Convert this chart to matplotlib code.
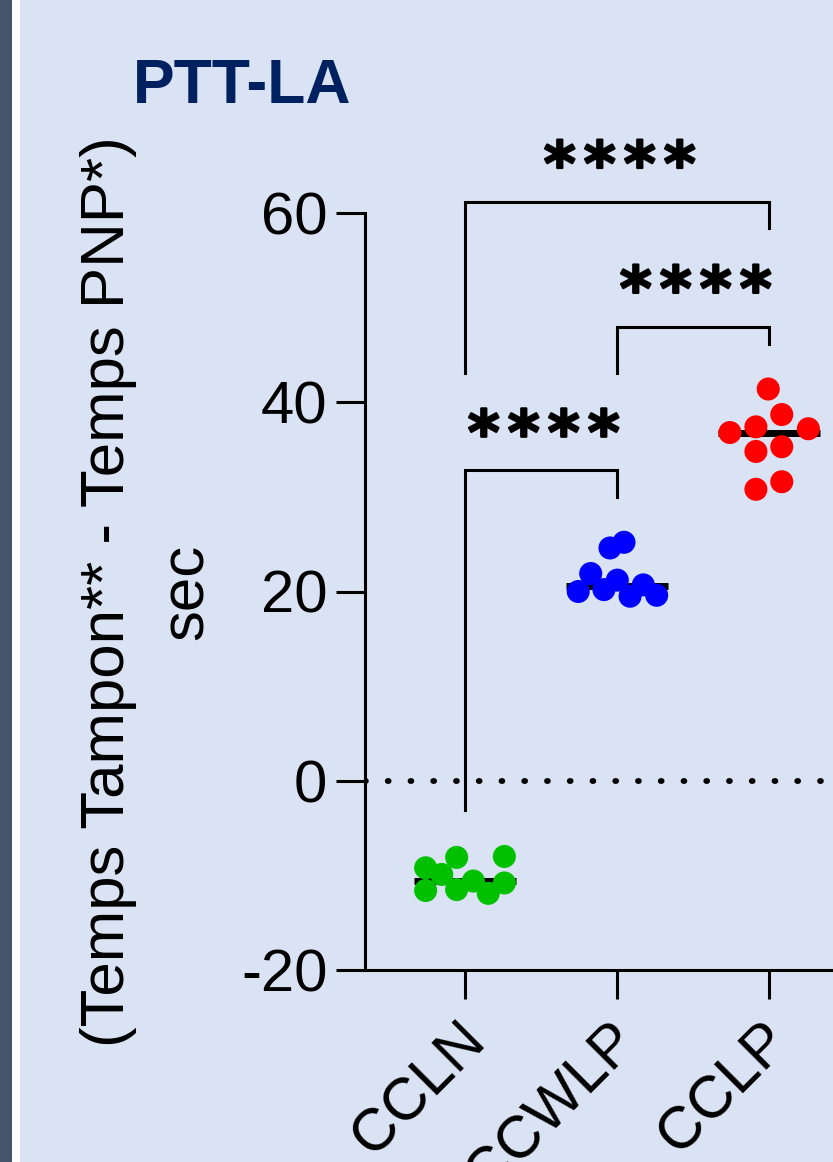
import matplotlib
matplotlib.use("Agg")
import matplotlib.pyplot as plt
import matplotlib.patheffects as pe
from matplotlib.patches import Rectangle

# ---- data ----
categories = ["CCLN", "CCWLP", "CCLP"]
colors = ["#00C000", "#0000FF", "#FF0000"]
ccln = [-9.2, -9.9, -8.1, -11.6, -11.5, -10.6, -11.9, -8.0, -10.8]
ccwlp = [24.6, 25.2, 21.9, 20.0, 20.2, 21.2, 19.5, 20.7, 19.6]
cclp = [41.4, 38.7, 36.8, 37.4, 37.2, 34.8, 35.3, 30.8, 31.6]
# horizontal jitter of the points (category units)
jit_ccln = [-0.259, -0.153, -0.055, -0.259, -0.055, 0.055, 0.153, 0.259, 0.259]
jit_ccwlp = [-0.046, 0.046, -0.173, -0.255, -0.086, 0.002, 0.086, 0.173, 0.261]
jit_cclp = [-0.005, 0.084, -0.257, -0.086, 0.259, -0.086, 0.084, -0.086, 0.084]
means = [-10.6, 20.6, 36.8]
# comparisons: (i, j, top, left leg bottom, right leg bottom, label)
comparisons = [
    (0, 2, 61.2, 43.1, 58.4, "****"),
    (1, 2, 48.0, 43.1, 46.2, "****"),
    (0, 1, 32.8, -3.1, 30.0, "****"),
]
yticks = [-20, 0, 20, 40, 60]
ytick_labels = ["-20", "0", "20", "40", "60"]

BG = "#DAE3F3"
FONT = "Liberation Sans"

fig = plt.figure(figsize=(8.33, 11.62), dpi=100)
fig.patch.set_facecolor(BG)
fig.patches.append(Rectangle((0, 0), 12 / 833, 1, transform=fig.transFigure,
                             facecolor="#44546A", edgecolor="none", zorder=0))
fig.patches.append(Rectangle((12 / 833, 0), 8 / 833, 1, transform=fig.transFigure,
                             facecolor="white", edgecolor="none", zorder=0))

ax = fig.add_axes([365 / 833, (1162 - 970) / 1162, 504 / 833, 757 / 1162])
ax.set_facecolor("none")

groups = [ccln, ccwlp, cclp]
jits = [jit_ccln, jit_ccwlp, jit_cclp]
for i, (vals, jit, c) in enumerate(zip(groups, jits, colors)):
    ax.plot([i - 0.336, i + 0.336], [means[i], means[i]], color="black", lw=5,
            solid_capstyle="butt", zorder=2)
    ax.scatter([i + j for j in jit], vals, s=275, color=c, edgecolors="none",
               zorder=3, clip_on=False)

ax.axhline(0, color="black", lw=4.2, linestyle=(0, (0.15, 3.75)),
           dash_capstyle="round", zorder=1)

for (i, j, top, lb, rb, lab) in comparisons:
    ax.plot([i, i, j, j], [lb, top, top, rb], color="black", lw=2.2,
            clip_on=False, solid_joinstyle="miter", zorder=2)
    n = len(lab)
    for k, ch in enumerate(lab):
        ax.annotate(ch, xy=((i + j) / 2, top),
                    xytext=((k - (n - 1) / 2) * 28.8 + 2, 12),
                    textcoords="offset points", ha="center", va="baseline",
                    fontsize=44, fontweight="bold", family="DejaVu Sans",
                    color="black", annotation_clip=False,
                    path_effects=[pe.withStroke(linewidth=1.6, foreground="black")])

ax.set_xlim(-0.658, 2.658)
ax.set_ylim(-20, 60)
ax.set_yticks(yticks)
ax.set_yticklabels(ytick_labels, family=FONT, fontsize=43)
ax.set_xticks(range(len(categories)))
ax.set_xticklabels([])
for i, cat in enumerate(categories):
    ax.annotate(cat, xy=(i, 0), xycoords=("data", "axes fraction"),
                xytext=(-5.8, -30.6), textcoords="offset points",
                rotation=45, ha="right", va="top", rotation_mode="anchor",
                family=FONT, fontsize=43, annotation_clip=False)
ax.tick_params(axis="both", length=21, width=2.2, direction="out", pad=6)
for s in ["top", "right"]:
    ax.spines[s].set_visible(False)
for s in ["left", "bottom"]:
    ax.spines[s].set_linewidth(2.2)

ax.set_ylabel("(Temps Tampon** - Temps PNP*)\nsec", family=FONT, fontsize=44.5,
              linespacing=1.5, labelpad=18)

fig.text(133 / 833, 1 - 103 / 1162, "PTT-LA", family=FONT, fontsize=45,
         fontweight="bold", color="#002060", ha="left", va="baseline")

fig.savefig("out.png", dpi=100, facecolor=BG)
